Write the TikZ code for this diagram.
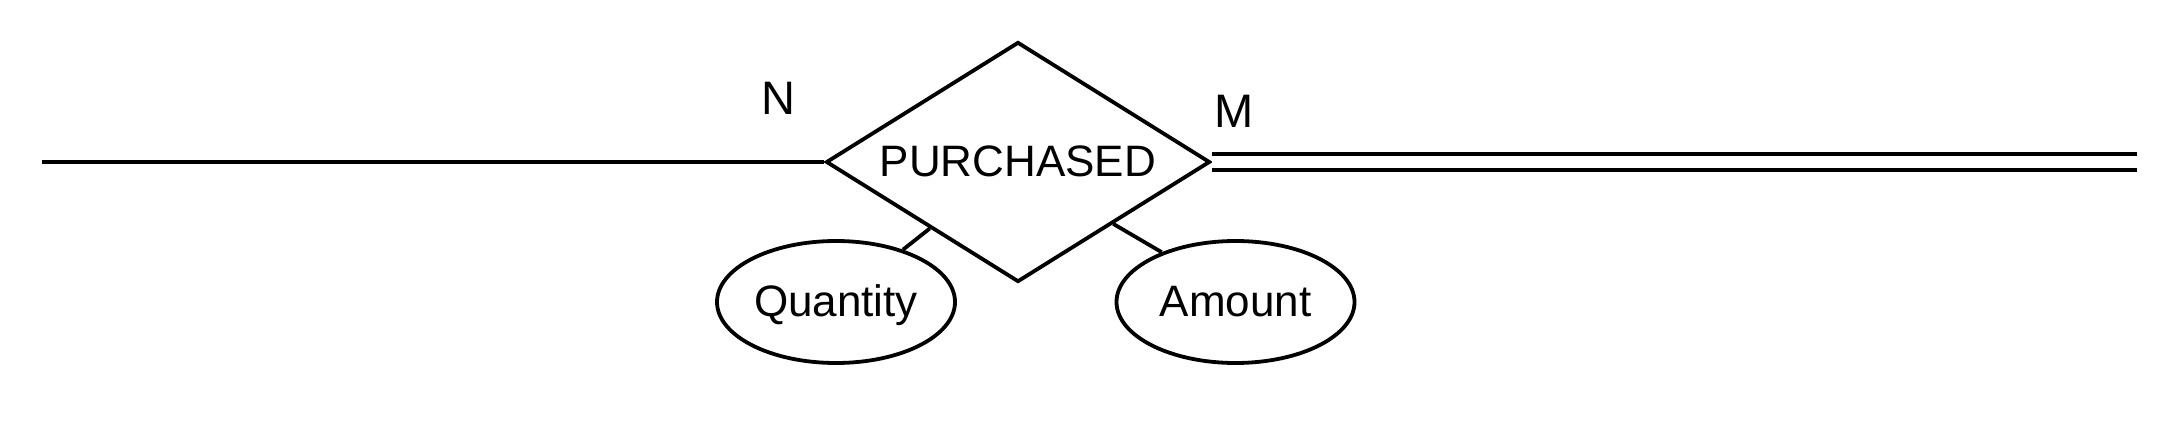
\documentclass[tikz,border=0pt]{standalone}
\usepackage{fontspec}
\setmainfont{Liberation Sans}
\usetikzlibrary{shapes.geometric}
\begin{document}
\begin{tikzpicture}[x=1pt,y=1pt, line width=3.8pt,
 rel/.style={diamond, draw, aspect=1.6, inner sep=0pt, minimum width=384pt, minimum height=240pt, text height=29pt, text depth=0pt, font=\fontsize{44}{52}\selectfont},
 attr/.style={ellipse, draw, inner sep=0pt, minimum width=238pt, minimum height=122pt, text height=29pt, text depth=0pt, font=\fontsize{44}{52}\selectfont},
 card/.style={font=\fontsize{47}{56}\selectfont, inner sep=0pt},
 dbl/.style={double, double distance=12pt, line width=4pt}]
\useasboundingbox (0,0) rectangle (2184,440);
\node[rel] (p) at (1018,278) {PURCHASED};
\node[attr] (q) at (836,138) {Quantity};
\node[attr] (a) at (1235.5,138) {Amount};
\node[card] (n) at (778,341.7) {N};
\node[card] (m) at (1234,328.3) {M};
\coordinate (lend) at (42,278);
\coordinate (rend) at (2137,279);
\draw (lend) -- (p.west);
\draw[dbl] (p.east) -- (p.east -| rend);
\draw (q.38) -- (p.217);
\draw (a.146) -- (p.327);
\end{tikzpicture}
\end{document}
